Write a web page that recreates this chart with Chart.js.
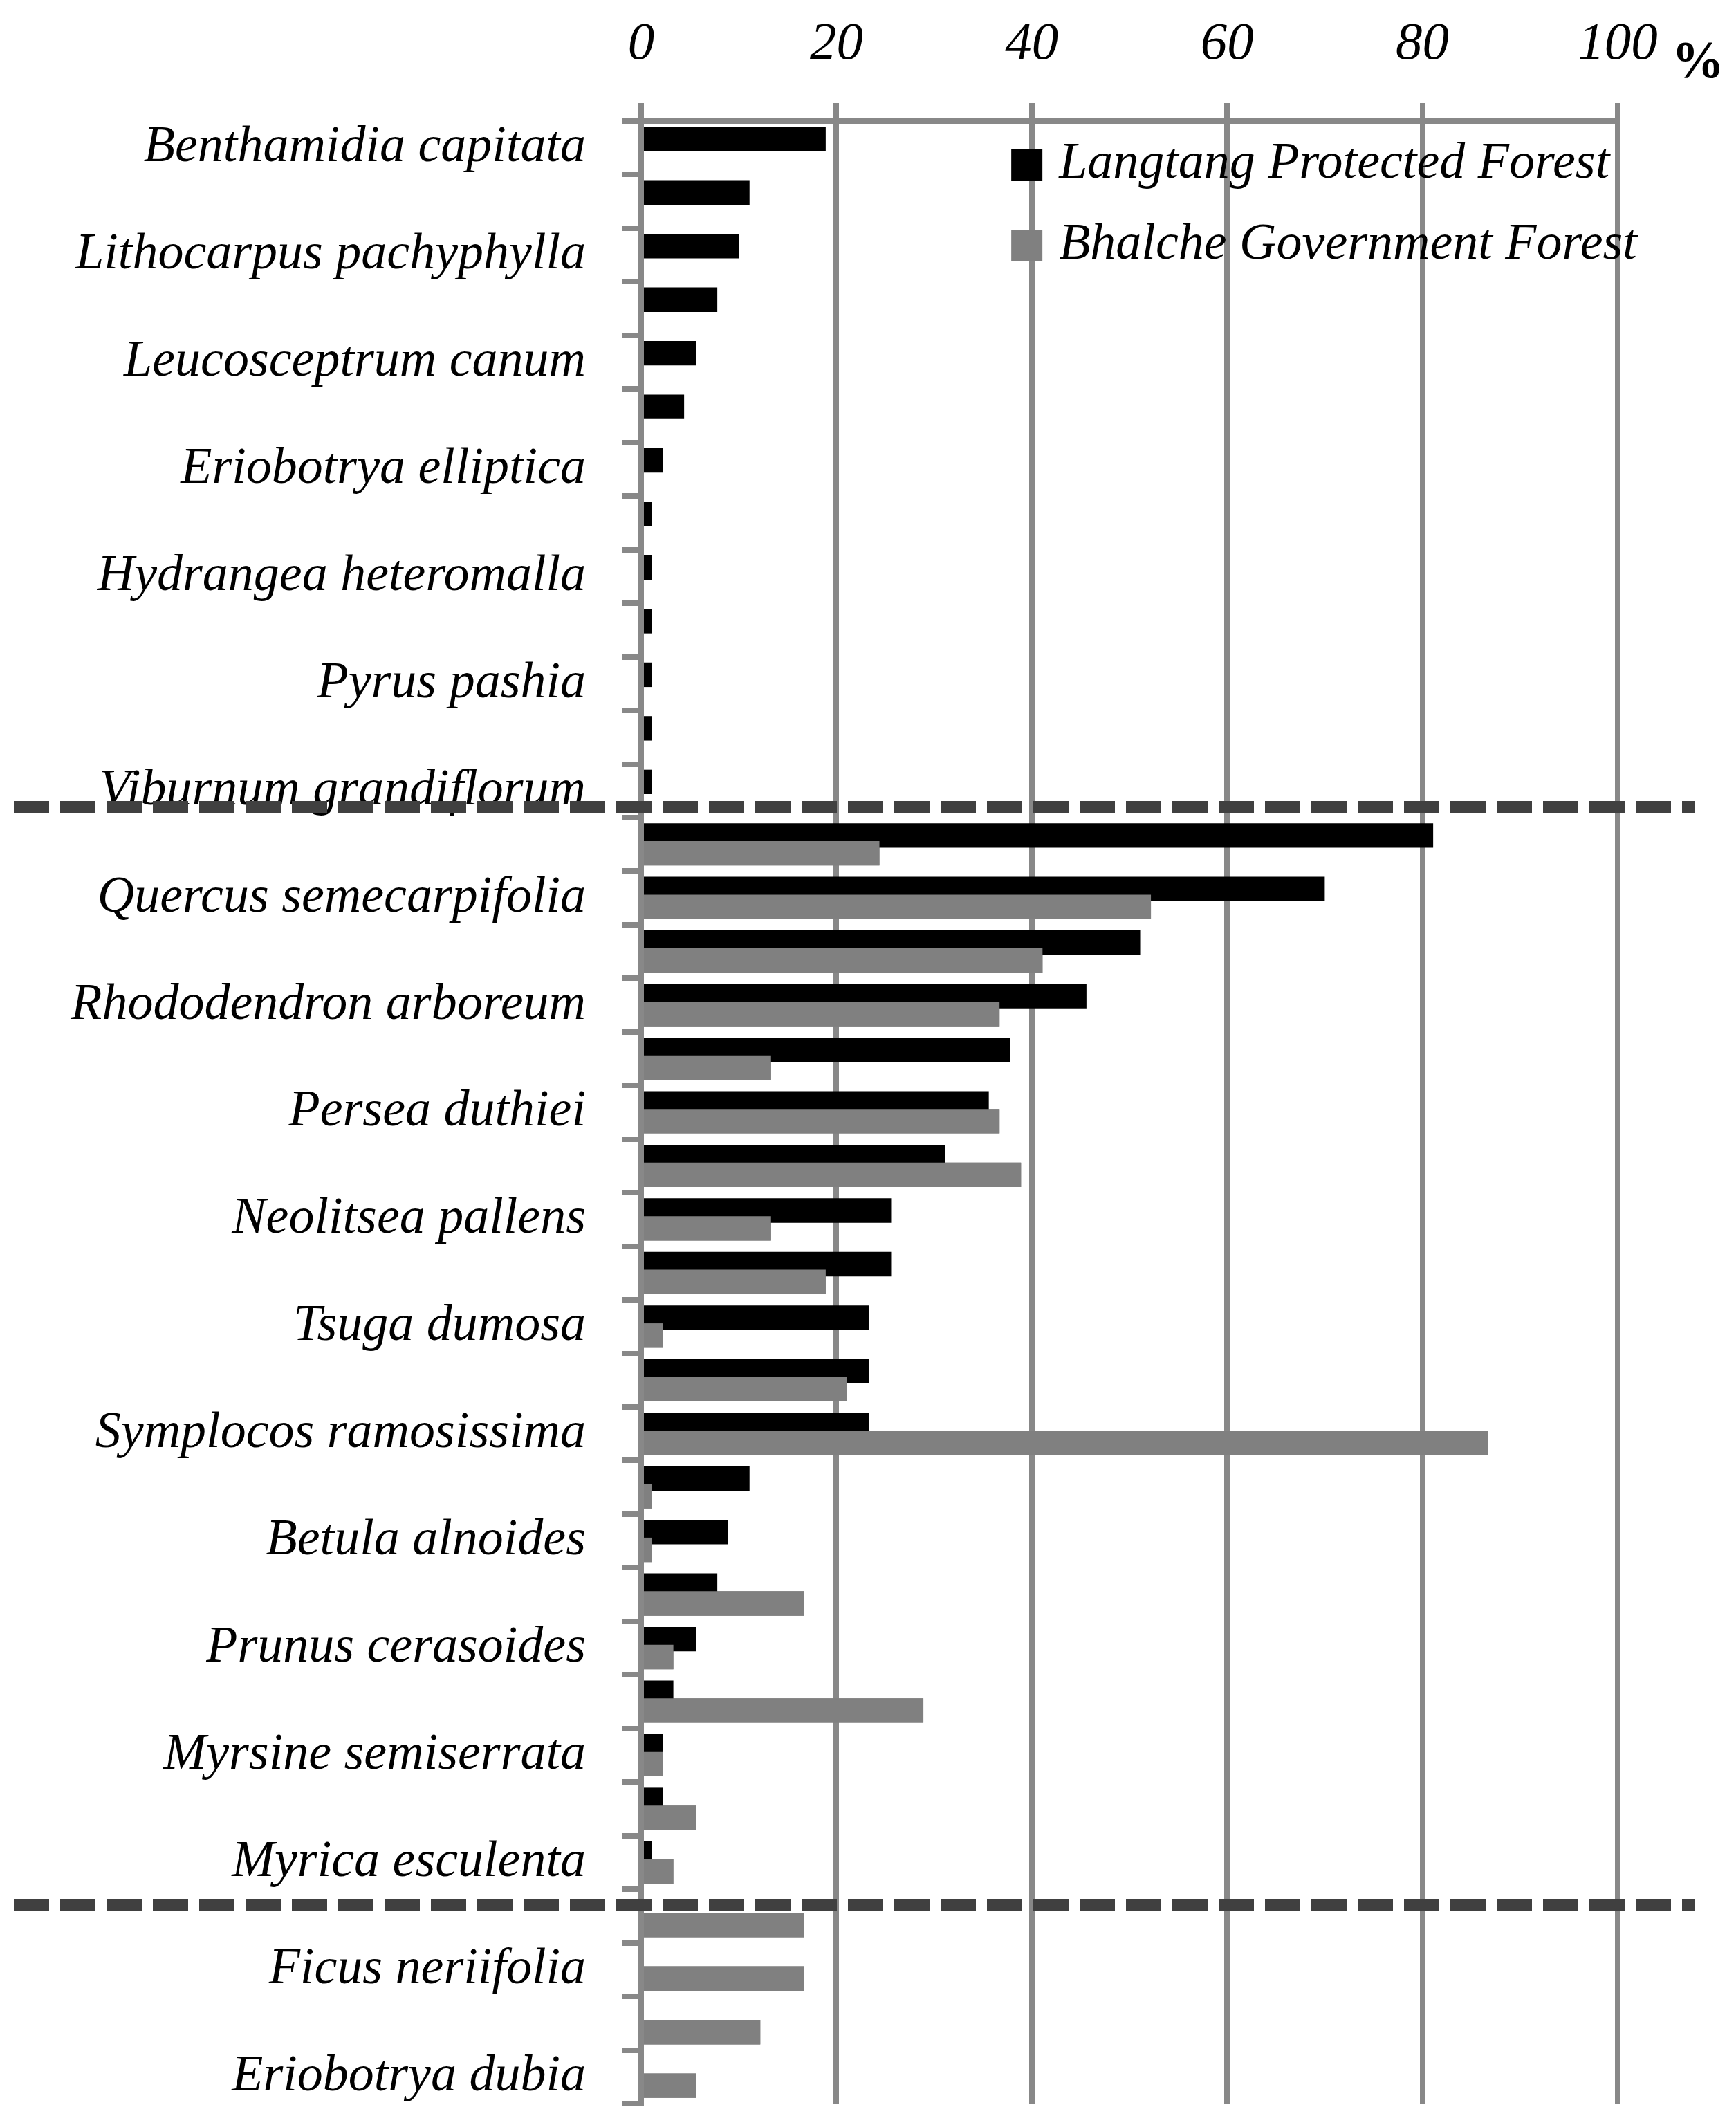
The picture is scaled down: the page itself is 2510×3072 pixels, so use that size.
<!DOCTYPE html>
<html>
<head>
<meta charset="utf-8">
<script src="https://cdn.jsdelivr.net/npm/chart.js@4.4.1/dist/chart.umd.min.js"></script>
<style>
    html, body { margin: 0; padding: 0; background: #fff; overflow: hidden; }
    #wrap { width: 2510px; height: 3072px; position: relative; }
</style>
</head>
<body>
<div id="wrap"><canvas id="chartEspecies" width="2510" height="3072"></canvas></div>
<script>
// 1. DATA
const especies = [
    'Benthamidia capitata', '', 'Lithocarpus pachyphylla', '', 'Leucosceptrum canum', '',
    'Eriobotrya elliptica', '', 'Hydrangea heteromalla', '', 'Pyrus pashia', '',
    'Viburnum grandiflorum', '', 'Quercus semecarpifolia', '', 'Rhododendron arboreum', '',
    'Persea duthiei', '', 'Neolitsea pallens', '', 'Tsuga dumosa', '',
    'Symplocos ramosissima', '', 'Betula alnoides', '', 'Prunus cerasoides', '',
    'Myrsine semiserrata', '', 'Myrica esculenta', '', 'Ficus neriifolia', '',
    'Eriobotrya dubia'
];

const langtang = [
    18.9, 11.1, 10.0, 7.8, 5.6, 4.4, 2.2, 1.1, 1.1, 1.1, 1.1, 1.1, 1.1,
    81.1, 70.0, 51.1, 45.6, 37.8, 35.6, 31.1, 25.6, 25.6, 23.3,
    23.3, 23.3, 11.1, 8.9, 7.8, 5.6, 3.3, 2.2, 2.2, 1.1,
    0, 0, 0, 0
];

const bhalche = [
    0, 0, 0, 0, 0, 0, 0, 0, 0, 0, 0, 0, 0,
    24.4, 52.2, 41.1, 36.7, 13.3, 36.7, 38.9, 13.3, 18.9, 2.2,
    21.1, 86.7, 1.1, 1.1, 16.7, 3.3, 28.9, 2.2, 5.6, 3.3,
    16.7, 16.7, 12.2, 5.6
];

const xTicks = [0, 20, 40, 60, 80, 100];
const serieNomes = ['Langtang Protected Forest', 'Bhalche Government Forest'];
const serieCores = ['#000000', '#808080'];
// group separators, in category units
const divisorias = [12.3, 32.8];

const FONTE = '"Liberation Serif", "Times New Roman", serif';
const COR_GRADE = '#888888';

// 2. PLUGINS
const grayOnTop = {
    id: 'grayOnTop',
    afterDatasetsDraw(chart) {
        const meta = chart.getDatasetMeta(1);
        if (meta && !meta.hidden) meta.controller.draw();
    }
};

const extras = {
    id: 'extras',
    afterDraw(chart) {
        const ctx = chart.ctx;
        const y = chart.scales.y;
        const x = chart.scales.x;
        const area = chart.chartArea;

        // dashed separators
        ctx.save();
        ctx.strokeStyle = '#404040';
        ctx.lineWidth = 17;
        ctx.setLineDash([51, 16]);
        divisorias.forEach(v => {
            const py = y.getPixelForValue(v);
            ctx.beginPath();
            ctx.moveTo(20, py);
            ctx.lineTo(area.right + 111, py);
            ctx.stroke();
        });
        ctx.restore();

        // legend inside the plot
        ctx.save();
        ctx.font = 'italic 74px ' + FONTE;
        ctx.textBaseline = 'middle';
        ctx.textAlign = 'left';
        const lx = x.getPixelForValue(37.9);
        serieNomes.forEach((nome, i) => {
            const cy = 238 + i * 117;
            ctx.fillStyle = serieCores[i];
            ctx.fillRect(lx, cy - 22, 45, 45);
            ctx.fillStyle = '#000';
            ctx.fillText(nome, lx + 69, cy);
        });
        ctx.restore();

        // unit label
        ctx.save();
        ctx.font = 'bold 76px ' + FONTE;
        ctx.fillStyle = '#000';
        ctx.textBaseline = 'alphabetic';
        ctx.textAlign = 'left';
        ctx.fillText('%', area.right + 78, 112);
        ctx.restore();
    }
};

// 3. CHART
const ctx = document.getElementById('chartEspecies');
new Chart(ctx, {
    type: 'bar',
    data: {
        labels: especies,
        datasets: [
            { label: serieNomes[0], data: langtang, backgroundColor: serieCores[0], borderWidth: 0 },
            { label: serieNomes[1], data: bhalche, backgroundColor: serieCores[1], borderWidth: 0 }
        ]
    },
    options: {
        indexAxis: 'y',
        responsive: false,
        maintainAspectRatio: false,
        devicePixelRatio: 1,
        animation: false,
        categoryPercentage: 0.666,
        barPercentage: 1.37,
        layout: { padding: { left: 0, top: 0, right: 171, bottom: 31 } },
        plugins: {
            legend: { display: false },
            tooltip: { enabled: false }
        },
        scales: {
            x: {
                position: 'top',
                min: 0,
                max: 100,
                afterBuildTicks: s => { s.ticks = xTicks.map(v => ({ value: v })); },
                afterFit: s => {
                    s.height = 175;
                    s.paddingLeft = 0;
                    s.paddingRight = 0;
                },
                ticks: {
                    color: '#000',
                    font: { family: FONTE, size: 77, style: 'italic' },
                    padding: 38,
                    maxRotation: 0
                },
                grid: { color: COR_GRADE, lineWidth: 8, tickLength: 26, drawOnChartArea: true },
                border: { display: true, color: COR_GRADE, width: 8 }
            },
            y: {
                afterFit: s => {
                    s.width = 927;
                    s.paddingTop = 0;
                    s.paddingBottom = 0;
                },
                ticks: {
                    color: '#000',
                    font: { family: FONTE, size: 74, style: 'italic' },
                    padding: 53,
                    autoSkip: false
                },
                grid: { color: COR_GRADE, lineWidth: 8, tickLength: 27, drawOnChartArea: false, offset: true },
                border: { display: true, color: COR_GRADE, width: 8 }
            }
        }
    },
    plugins: [grayOnTop, extras]
});
</script>
</body>
</html>
